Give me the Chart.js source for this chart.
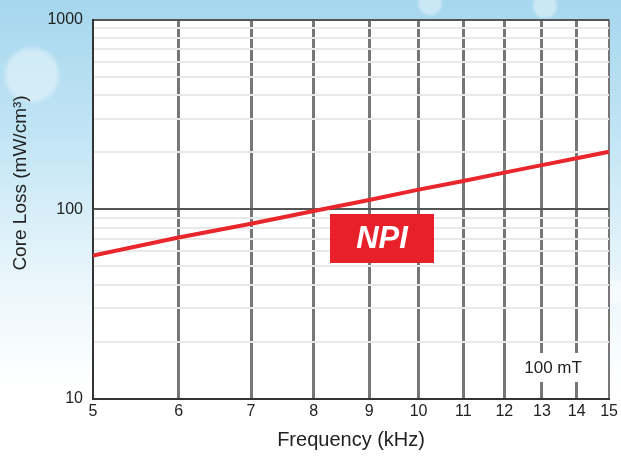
<!DOCTYPE html>
<html>
<head>
<meta charset="utf-8">
<script src="https://cdn.jsdelivr.net/npm/chart.js@4/dist/chart.umd.min.js"></script>
<style>
html, body { margin: 0; padding: 0; }
body {
    width: 621px; height: 456px; overflow: hidden;
    background:
        radial-gradient(circle at 32px 75px, rgba(255,255,255,0.4) 0, rgba(255,255,255,0.4) 24px, rgba(255,255,255,0) 30px),
        radial-gradient(circle at 430px 3px, rgba(255,255,255,0.4) 0, rgba(255,255,255,0.4) 10px, rgba(255,255,255,0) 14px),
        radial-gradient(circle at 545px 6px, rgba(255,255,255,0.4) 0, rgba(255,255,255,0.4) 10px, rgba(255,255,255,0) 14px),
        radial-gradient(circle at 614px 292px, rgba(255,255,255,0.5) 0, rgba(255,255,255,0.5) 10px, rgba(255,255,255,0) 14px),
        linear-gradient(180deg, #a6d7ee 0%, #c2e5f5 30%, #e8f5fb 60%, #ffffff 85%);
}
canvas { display: block; }
</style>
</head>
<body>
<canvas id="lossChart" width="621" height="456"></canvas>
<script>
// 周波数 (kHz) とコアロス (mW/cm3) @ 100 mT
const freqKHz = [5, 6, 7, 8, 9, 10, 11, 12, 13, 14, 15];
const coreLoss = [57, 71, 84, 98, 112, 127, 141, 156, 171, 186, 201];

// 目盛り
const xTicks = [5, 6, 7, 8, 9, 10, 11, 12, 13, 14, 15];
const yTicks = [10, 20, 30, 40, 50, 60, 70, 80, 90,
                100, 200, 300, 400, 500, 600, 700, 800, 900, 1000];
const yLabels = [10, 100, 1000];

const fontFamily = "'Liberation Sans', Arial, Helvetica, sans-serif";

// プロット領域を白で塗る
const plotBackground = {
    id: 'plotBackground',
    beforeDraw(chart) {
        const { ctx, chartArea: a } = chart;
        ctx.save();
        ctx.fillStyle = '#ffffff';
        ctx.fillRect(a.left, a.top, a.right - a.left, a.bottom - a.top);
        ctx.restore();
    }
};

// NPI バッジ、100 mT ラベル、縦軸タイトル
const labels = {
    id: 'labels',
    afterDraw(chart) {
        const { ctx, chartArea: a } = chart;
        ctx.save();
        // 100 mT
        ctx.fillStyle = '#ffffff';
        ctx.fillRect(a.right - 92, a.bottom - 46, 72, 29);
        ctx.fillStyle = '#222222';
        ctx.font = '17px ' + fontFamily;
        ctx.textAlign = 'center';
        ctx.textBaseline = 'middle';
        ctx.fillText('100 mT', a.right - 56, a.bottom - 31);
        // NPI
        ctx.fillStyle = '#e8202a';
        ctx.fillRect(330, 214, 104, 49);
        ctx.fillStyle = '#ffffff';
        ctx.font = 'italic bold 31px ' + fontFamily;
        ctx.fillText('NPI', 382, 239);
        // 縦軸タイトル
        ctx.translate(21, 183);
        ctx.rotate(-Math.PI / 2);
        ctx.fillStyle = '#222222';
        ctx.font = '19px ' + fontFamily;
        ctx.fillText('Core Loss (mW/cm³)', 0, 0);
        ctx.restore();
    }
};

new Chart(document.getElementById('lossChart'), {
    type: 'line',
    data: {
        datasets: [{
            data: freqKHz.map((f, i) => ({ x: f, y: coreLoss[i] })),
            borderColor: '#e8262b',
            borderWidth: 4,
            pointRadius: 0,
            tension: 0,
            fill: false
        }]
    },
    options: {
        responsive: false,
        animation: false,
        layout: { padding: { top: 17, right: 11, left: 0, bottom: 0 } },
        plugins: {
            legend: { display: false },
            tooltip: { enabled: false }
        },
        scales: {
            x: {
                type: 'logarithmic',
                min: 5,
                max: 15,
                afterBuildTicks(scale) {
                    scale.ticks = xTicks.map(v => ({ value: v }));
                },
                afterFit(scale) { scale.height = 57; },
                ticks: {
                    autoSkip: false,
                    maxRotation: 0,
                    padding: 3,
                    color: '#222222',
                    font: { family: fontFamily, size: 16 },
                    callback: v => String(v)
                },
                grid: {
                    drawTicks: false,
                    color: '#777777',
                    lineWidth: ctx => (ctx.tick && (ctx.tick.value === 5 || ctx.tick.value === 15)) ? 2 : 3
                },
                border: { color: '#333333', width: 2 },
                title: {
                    display: true,
                    text: 'Frequency (kHz)',
                    color: '#222222',
                    font: { family: fontFamily, size: 20 },
                    padding: { top: 0, bottom: 4 }
                }
            },
            y: {
                type: 'logarithmic',
                min: 10,
                max: 1000,
                afterBuildTicks(scale) {
                    scale.ticks = yTicks.map(v => ({ value: v }));
                },
                afterFit(scale) { scale.width = 93; },
                ticks: {
                    autoSkip: false,
                    padding: 10,
                    color: '#222222',
                    font: { family: fontFamily, size: 16 },
                    callback: v => yLabels.includes(v) ? String(v) : ''
                },
                grid: {
                    drawTicks: false,
                    color: ctx => (ctx.tick && yLabels.includes(ctx.tick.value)) ? '#555555' : '#e9e9e9',
                    lineWidth: 2
                },
                border: { color: '#333333', width: 2 }
            }
        }
    },
    plugins: [plotBackground, labels]
});
</script>
</body>
</html>
